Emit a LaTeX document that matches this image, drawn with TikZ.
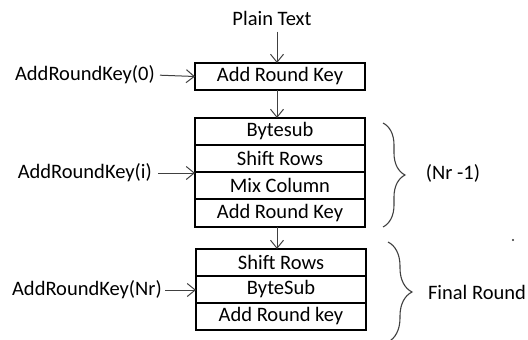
\documentclass[tikz,border=0pt]{standalone}
\usepackage{fontspec}
\setmainfont{Carlito}
\usetikzlibrary{arrows.meta,decorations.pathreplacing}
\begin{document}
\begin{tikzpicture}[x=1pt,y=-1pt,
  every node/.style={font=\fontsize{20.5}{24}\selectfont, text=black},
  stage/.style={draw=black, line width=1.3pt, minimum width=170pt, inner sep=0pt, outer sep=0pt},
  keylabel/.style={inner sep=0pt},
  flow/.style={draw=black!75, line width=1pt, -{Straight Barb[length=8pt,width=13pt,line width=1pt]}},
  bracket/.style={draw=black!75, line width=1.1pt, decorate, decoration={brace}}]
\useasboundingbox (0,0) rectangle (528,340);

% input and first key addition
\node (plain) at (272,18) {Plain Text};
\node[stage, minimum height=27pt] (ark0) at (280,76.5) {Add Round Key};
\node[keylabel, anchor=east] (k0) at (155,75) {AddRoundKey(0)};

% main rounds
\node[stage, minimum height=27pt] (bs)  at (280,131.5) {Bytesub};
\node[stage, minimum height=27pt] (sr)  at (280,158.5) {Shift Rows};
\node[stage, minimum height=27pt] (mc)  at (280,185.5) {Mix Column};
\node[stage, minimum height=28pt] (ark) at (280,213)   {Add Round Key};
\node[keylabel, anchor=east] (ki) at (152,173) {AddRoundKey(i)};

% final round
\node[stage, minimum height=27pt] (fsr) at (281,262.5) {Shift Rows};
\node[stage, minimum height=27pt] (fbs) at (281,289.5) {ByteSub};
\node[stage, minimum height=27pt] (fak) at (281,316.5) {Add Round key};
\node[keylabel, anchor=east] (kn) at (162,290) {AddRoundKey(Nr)};

% vertical flow
\draw[flow] ([xshift=5pt,yshift=-3pt]plain.south) -- ([xshift=-3pt]ark0.north);
\draw[flow] ([xshift=-3pt]ark0.south) -- ([xshift=-3pt]bs.north);
\draw[flow] ([xshift=-3pt]ark.south) -- ([xshift=-4pt]fsr.north);

% round key inputs
\draw[flow, shorten <=5pt] (k0.east) -- (ark0.west);
\draw[flow, shorten <=6pt] (ki.east) -- (ki.east -| bs.west);
\draw[flow, shorten <=3pt] (kn.east) -- (kn.east -| fbs.west);

% braces and round annotations
\coordinate (b1t) at (383,123);
\coordinate (b1b) at (383,227);
\draw[bracket, decoration={amplitude=22pt}] (b1t) -- (b1b);
\node (nr) at (453,173) {(Nr -1)};

\coordinate (b2t) at (388,242);
\coordinate (b2b) at (388,342);
\draw[bracket, decoration={amplitude=24pt}] (b2t) -- (b2b);
\node (fr) at (477,292) {Final Round};

\fill[black!80] (513,240) circle (1.1pt);
\end{tikzpicture}
\end{document}
